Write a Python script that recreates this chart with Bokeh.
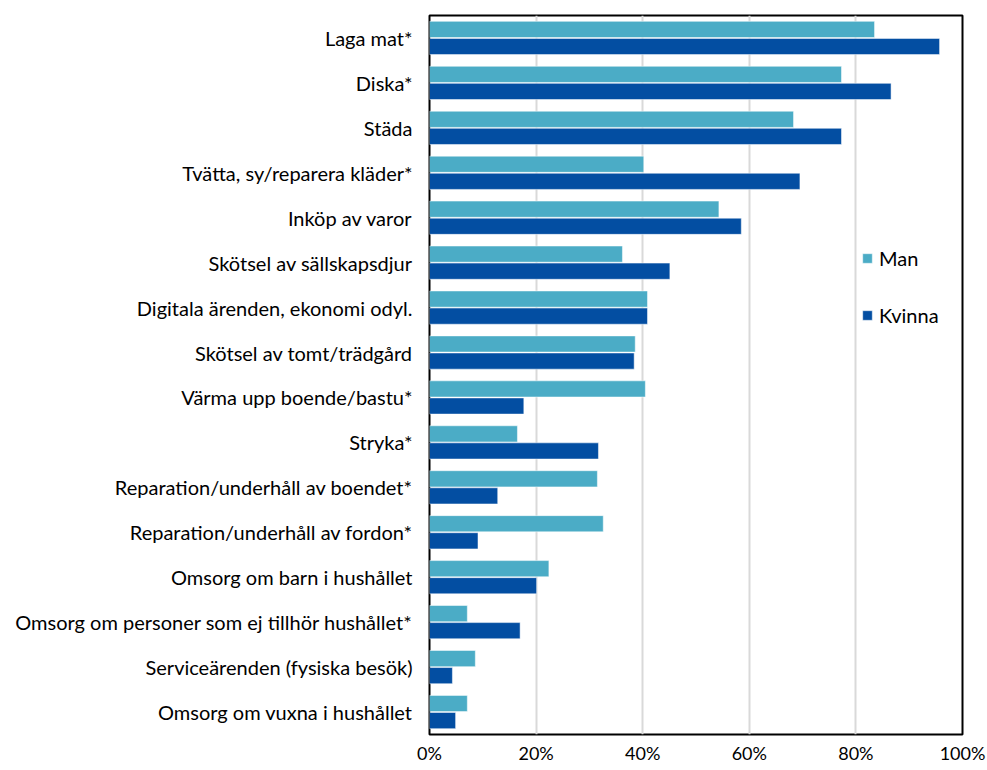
from bokeh.plotting import figure
from bokeh.models import ColumnDataSource, FactorRange, Range1d, FixedTicker, PrintfTickFormatter, Legend, LegendItem
from bokeh.transform import dodge
from bokeh.embed import file_html
from bokeh.resources import INLINE

categories = [
    "Laga mat*",
    "Diska*",
    "Städa",
    "Tvätta, sy/reparera kläder*",
    "Inköp av varor",
    "Skötsel av sällskapsdjur",
    "Digitala ärenden, ekonomi odyl.",
    "Skötsel av tomt/trädgård",
    "Värma upp boende/bastu*",
    "Stryka*",
    "Reparation/underhåll av boendet*",
    "Reparation/underhåll av fordon*",
    "Omsorg om barn i hushållet",
    "Omsorg om personer som ej tillhör hushållet*",
    "Serviceärenden (fysiska besök)",
    "Omsorg om vuxna i hushållet",
]
man = [83.5, 77.3, 68.3, 40.2, 54.3, 36.2, 40.9, 38.6, 40.5, 16.5, 31.5, 32.6, 22.4, 7.1, 8.6, 7.1]
kvinna = [95.7, 86.6, 77.3, 69.5, 58.5, 45.1, 40.9, 38.4, 17.7, 31.7, 12.8, 9.1, 20.1, 17.0, 4.3, 4.9]
x_ticks = [0, 20, 40, 60, 80, 100]
series_names = ["Man", "Kvinna"]
series_colors = ["#4BACC6", "#034EA2"]

FONT = "Lato"

src = ColumnDataSource(dict(cat=categories, man=man, kvinna=kvinna))

p = figure(
    width=987, height=770,
    y_range=FactorRange(factors=categories[::-1]),
    x_range=Range1d(0, 100),
    output_backend="svg", toolbar_location=None,
    min_border_left=429, min_border_right=25, min_border_top=15, min_border_bottom=36,
)

r_man = p.hbar(y=dodge("cat", 0.19, range=p.y_range), right="man", left=0, height=0.36,
               source=src, fill_color=series_colors[0], line_color="white", line_alpha=0.5, line_width=1)
r_kv = p.hbar(y=dodge("cat", -0.19, range=p.y_range), right="kvinna", left=0, height=0.36,
              source=src, fill_color=series_colors[1], line_color="white", line_alpha=0.5, line_width=1)

p.outline_line_color = "black"
p.outline_line_width = 2
p.outline_line_alpha = 1

p.xgrid.grid_line_color = "#d9d9d9"
p.xgrid.grid_line_width = 2
p.ygrid.grid_line_color = None

p.xaxis.ticker = FixedTicker(ticks=x_ticks)
p.xaxis.formatter = PrintfTickFormatter(format="%d%%")
for ax in (p.xaxis, p.yaxis):
    ax.axis_line_color = None
    ax.major_tick_line_color = None
    ax.minor_tick_line_color = None
    ax.major_label_text_font = FONT
    ax.major_label_text_color = "black"
p.xaxis.major_label_text_font_size = "18px"
p.yaxis.major_label_text_font_size = "20px"
p.xaxis.major_label_standoff = 1
p.yaxis.major_label_standoff = 11

legend = Legend(
    items=[LegendItem(label=series_names[0], renderers=[r_man]),
           LegendItem(label=series_names[1], renderers=[r_kv])],
    location=(432, 407),
    orientation="vertical",
    padding=0, margin=0, spacing=32,
    glyph_width=12, glyph_height=12, label_height=25, label_standoff=6,
    label_text_font=FONT, label_text_font_size="20px", label_text_color="black",
    border_line_color=None, background_fill_alpha=0,
)
p.add_layout(legend, "center")

open("out.html", "w").write(file_html(p, INLINE))
